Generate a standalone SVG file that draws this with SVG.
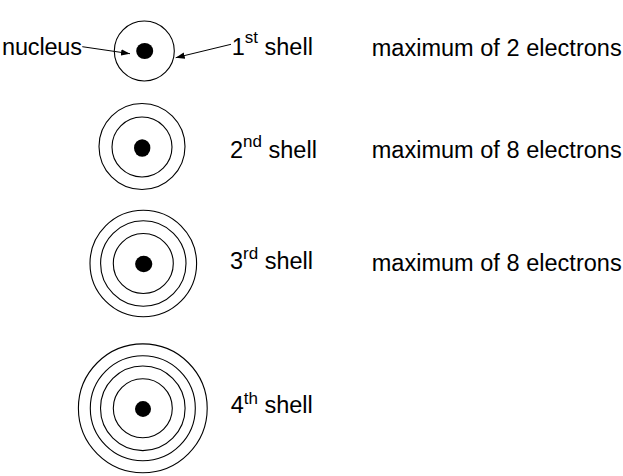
<svg xmlns="http://www.w3.org/2000/svg" width="623" height="476" viewBox="0 0 623 476">
<style>
text{font-family:"Liberation Sans",Arial,sans-serif;font-size:23.5px;fill:#000}
.sup{font-size:17px}
.ring{fill:none;stroke:#000;stroke-width:1.1}
.nuc{fill:#000}
.conn{stroke:#000;stroke-width:1;fill:none}
</style>
<defs>
<marker id="ah" markerWidth="10" markerHeight="8" refX="9" refY="4" orient="auto" markerUnits="userSpaceOnUse">
<path d="M0,0.8 L9,4 L0,7.2 z" fill="#000"/>
</marker>
</defs>
<rect width="623" height="476" fill="#fff"/>
<g id="atom1">
<circle class="ring" cx="144.3" cy="51" r="30"/>
<ellipse class="nuc" cx="144.7" cy="51" rx="8.5" ry="8"/>
</g>
<g id="atom2">
<circle class="ring" cx="142" cy="147" r="30"/>
<circle class="ring" cx="142" cy="146.5" r="43"/>
<ellipse class="nuc" cx="142.2" cy="148" rx="8.2" ry="8.8"/>
</g>
<g id="atom3">
<circle class="ring" cx="143.3" cy="263.5" r="30"/>
<circle class="ring" cx="143.3" cy="263.5" r="42.7"/>
<circle class="ring" cx="143.3" cy="263.5" r="53.3"/>
<ellipse class="nuc" cx="143.7" cy="264" rx="8.6" ry="8.3"/>
</g>
<g id="atom4">
<circle class="ring" cx="142.8" cy="408.3" r="29.5"/>
<circle class="ring" cx="142.8" cy="408.3" r="42.3"/>
<circle class="ring" cx="142.8" cy="408.3" r="52.5"/>
<circle class="ring" cx="142.8" cy="408.3" r="64.4"/>
<ellipse class="nuc" cx="143" cy="409" rx="8" ry="7.9"/>
</g>
<g id="label-nucleus"><text x="2" y="55" textLength="80" lengthAdjust="spacing">nucleus</text></g>
<g id="label-shell1"><text x="231.7" y="55">1<tspan class="sup" y="42.5">st</tspan><tspan y="55"> shell</tspan></text></g>
<g id="label-shell2"><text x="230" y="158.3">2<tspan class="sup" y="146.7">nd</tspan><tspan y="158.3"> shell</tspan></text></g>
<g id="label-shell3"><text x="230" y="269.3">3<tspan class="sup" y="258.7">rd</tspan><tspan y="269.3"> shell</tspan></text></g>
<g id="label-shell4"><text x="230.7" y="413.3">4<tspan class="sup" y="404">th</tspan><tspan y="413.3"> shell</tspan></text></g>
<g id="max1"><text x="371.7" y="55.7" textLength="250" lengthAdjust="spacing">maximum of 2 electrons</text></g>
<g id="max2"><text x="371.7" y="158.3" textLength="250" lengthAdjust="spacing">maximum of 8 electrons</text></g>
<g id="max3"><text x="371.7" y="270.7" textLength="250" lengthAdjust="spacing">maximum of 8 electrons</text></g>
<g id="connectors">
<line class="conn" x1="82.3" y1="46.7" x2="130" y2="53.7" marker-end="url(#ah)"/>
<line class="conn" x1="231" y1="44.3" x2="175.7" y2="57.7" marker-end="url(#ah)"/>
</g>
</svg>
